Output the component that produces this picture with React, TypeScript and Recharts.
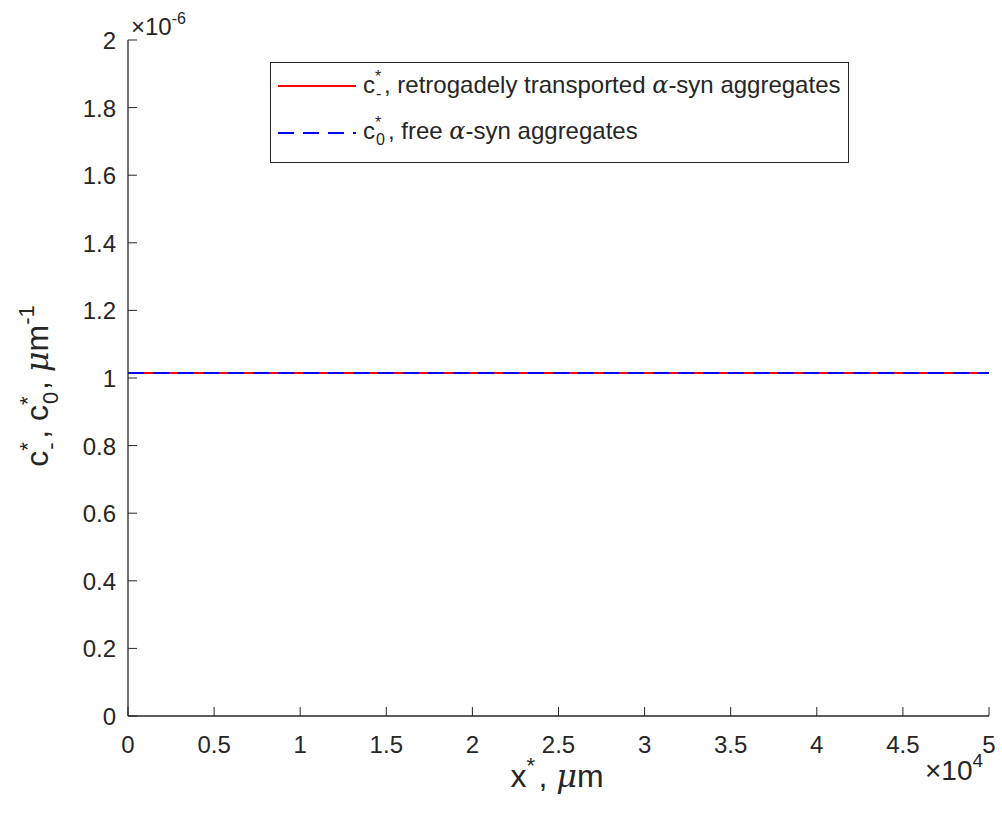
import React from "react";
import { LineChart, Line, XAxis, YAxis } from "recharts";

// positions along the axon, um
const X_POS = [0, 5000, 10000, 15000, 20000, 25000, 30000, 35000, 40000, 45000, 50000];
// c*_- (retrograde) and c*_0 (free), both flat at ~1.015e-6
const C_MINUS = [1.015e-6, 1.015e-6, 1.015e-6, 1.015e-6, 1.015e-6, 1.015e-6, 1.015e-6, 1.015e-6, 1.015e-6, 1.015e-6, 1.015e-6];
const C_ZERO = [1.015e-6, 1.015e-6, 1.015e-6, 1.015e-6, 1.015e-6, 1.015e-6, 1.015e-6, 1.015e-6, 1.015e-6, 1.015e-6, 1.015e-6];

const X_TICKS = [0, 5000, 10000, 15000, 20000, 25000, 30000, 35000, 40000, 45000, 50000];
const Y_TICKS = [0, 0.2e-6, 0.4e-6, 0.6e-6, 0.8e-6, 1e-6, 1.2e-6, 1.4e-6, 1.6e-6, 1.8e-6, 2e-6];

const AXIS = "#262626";
const FONT = "Arial, 'Liberation Sans', Helvetica, sans-serif";
const TICK_FS = 24;
const LABEL_FS = 32;
const LEG_FS = 24;

const data = X_POS.map((x, i) => ({ x, cm: C_MINUS[i], c0: C_ZERO[i] }));

const fmtY = (v: number) => String(Math.round(v * 1e7) / 10);
const fmtX = (v: number) => String(v / 1e4);

function YTick({ x, y, payload }: any) {
  return (
    <g>
      <line x1={x} x2={x + 9} y1={y} y2={y} stroke={AXIS} strokeWidth={1} />
      <text x={x - 12} y={y + 9} textAnchor="end" fontSize={TICK_FS} fontFamily={FONT} fill={AXIS}>
        {fmtY(payload.value)}
      </text>
    </g>
  );
}

function XTick({ x, y, payload }: any) {
  return (
    <g>
      <line x1={x} x2={x} y1={y} y2={y - 9} stroke={AXIS} strokeWidth={1} />
      <text x={x} y={y + 37} textAnchor="middle" fontSize={TICK_FS} fontFamily={FONT} fill={AXIS}>
        {fmtX(payload.value)}
      </text>
    </g>
  );
}

// stacked super/subscript, like TeX c_-^*
function SS({ sup, sub, size, w }: { sup?: string; sub?: string; size: number; w: number }) {
  const s = Math.round(size * 0.68);
  return (
    <span style={{ position: "relative", display: "inline-block", width: w, height: 0 }}>
      {sup && (
        <span style={{ position: "absolute", left: 0, top: -0.99 * size, fontSize: s, lineHeight: 1 }}>{sup}</span>
      )}
      {sub && (
        <span style={{ position: "absolute", left: 1, top: -0.275 * size, fontSize: s, lineHeight: 1 }}>{sub}</span>
      )}
    </span>
  );
}

function Sup({ t, size }: { t: string; size: number }) {
  return (
    <span style={{ fontSize: Math.round(size * 0.68), verticalAlign: size * 0.45 }}>{t}</span>
  );
}

const it: React.CSSProperties = { fontStyle: "italic", fontFamily: "'DejaVu Serif', serif" };

export default function App() {
  return (
    <div style={{ position: "absolute", left: 0, top: 0, width: 1002, height: 817, background: "#fff", fontFamily: FONT, color: AXIS }}>
      <LineChart width={1002} height={817} data={data} margin={{ top: 40, right: 13, bottom: 0, left: 0 }}>
        <XAxis
          dataKey="x"
          type="number"
          domain={[0, 50000]}
          ticks={X_TICKS}
          interval={0}
          height={101}
          tickSize={0}
          tickMargin={0}
          tickLine={false}
          axisLine={{ stroke: AXIS, strokeWidth: 1.3 }}
          tick={<XTick />}
        />
        <YAxis
          type="number"
          domain={[0, 2e-6]}
          ticks={Y_TICKS}
          interval={0}
          width={128}
          tickSize={0}
          tickMargin={0}
          tickLine={false}
          axisLine={{ stroke: AXIS, strokeWidth: 1.3 }}
          tick={<YTick />}
        />
        <Line dataKey="cm" stroke="#FF0000" strokeWidth={2} dot={false} isAnimationActive={false} />
        <Line dataKey="c0" stroke="#0000FF" strokeWidth={2} strokeDasharray="16 9" dot={false} isAnimationActive={false} />
      </LineChart>

      {/* exponent labels */}
      <div style={{ position: "absolute", left: 131, top: 9, fontSize: TICK_FS, whiteSpace: "nowrap", lineHeight: 1.2 }}>
        ×10<Sup t="-6" size={TICK_FS} />
      </div>
      <div style={{ position: "absolute", left: 925, top: 750, fontSize: 28, whiteSpace: "nowrap", lineHeight: 1.2 }}>
        ×10<Sup t="4" size={28} />
      </div>

      {/* axis titles */}
      <div
        style={{
          position: "absolute",
          left: 557,
          top: 776,
          transform: "translate(-50%, -50%)",
          fontSize: LABEL_FS,
          whiteSpace: "nowrap",
        }}
      >
        x<SS sup="*" size={LABEL_FS} w={12} />, <span style={it}>μ</span>m
      </div>
      <div
        style={{
          position: "absolute",
          left: 35,
          top: 386,
          transform: "translate(-50%, -50%) rotate(-90deg)",
          fontSize: LABEL_FS,
          whiteSpace: "nowrap",
        }}
      >
        c<SS sup="*" sub="-" size={LABEL_FS} w={12} />, c<SS sup="*" sub="0" size={LABEL_FS} w={15} />, <span style={it}>μ</span>m
        <Sup t="-1" size={LABEL_FS} />
      </div>

      {/* legend */}
      <div
        style={{
          position: "absolute",
          left: 270,
          top: 62,
          width: 577,
          height: 99,
          border: `1px solid ${AXIS}`,
          background: "#fff",
          fontSize: LEG_FS,
        }}
      >
        <svg width={90} height={99} style={{ position: "absolute", left: 0, top: 0 }}>
          <line x1={7} x2={85} y1={23} y2={23} stroke="#FF0000" strokeWidth={2} />
          <line x1={7} x2={85} y1={70} y2={70} stroke="#0000FF" strokeWidth={2} strokeDasharray="16 9" />
        </svg>
        <div style={{ position: "absolute", left: 92, top: 8, whiteSpace: "nowrap", lineHeight: 1.2 }}>
          c<SS sup="*" sub="-" size={LEG_FS} w={9} />, retrogadely transported <span style={it}>α</span>-syn aggregates
        </div>
        <div style={{ position: "absolute", left: 92, top: 54, whiteSpace: "nowrap", lineHeight: 1.2 }}>
          c<SS sup="*" sub="0" size={LEG_FS} w={13} />, free <span style={it}>α</span>-syn aggregates
        </div>
      </div>
    </div>
  );
}
